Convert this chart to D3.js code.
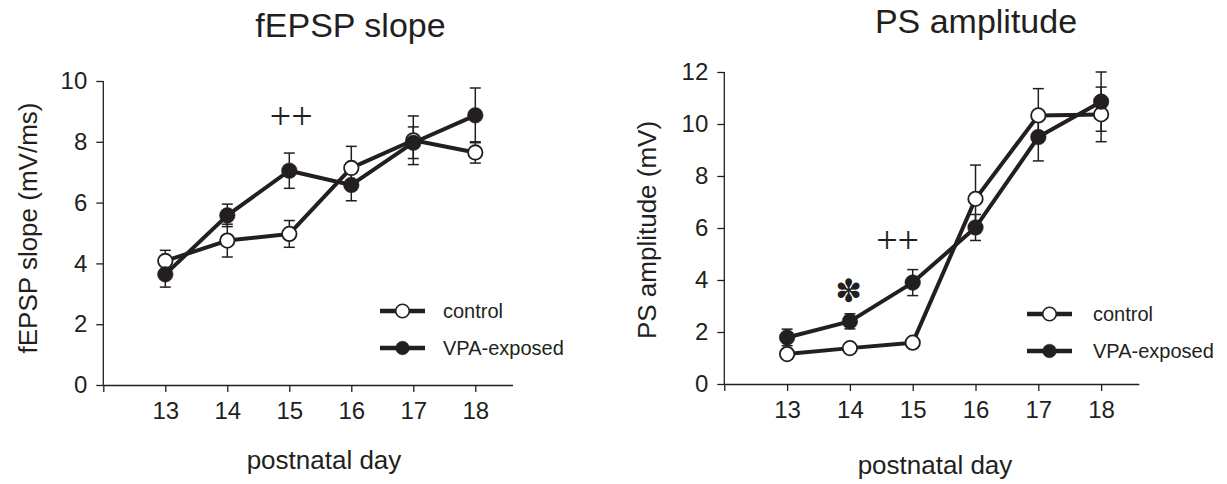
<!DOCTYPE html>
<html><head><meta charset="utf-8">
<script src="https://cdn.jsdelivr.net/npm/d3@7"></script>
<style>body{margin:0;background:#fff}svg{display:block}</style>
</head><body><svg id="c" width="1227" height="484"></svg>
<script>
// ---- data ----
const days = [13, 14, 15, 16, 17, 18];
const xTicks = [12, 13, 14, 15, 16, 17, 18];
const seriesNames = ["control", "VPA-exposed"];

const slopeControl    = [4.08, 4.75, 4.97, 7.14, 8.05, 7.65];
const slopeControlErr = [0.35, 0.54, 0.44, 0.71, 0.80, 0.35];
const slopeVPA        = [3.64, 5.58, 7.05, 6.58, 7.97, 8.87];
const slopeVPAErr     = [0.42, 0.37, 0.58, 0.52, 0.52, 0.90];
const slopeYTicks     = [0, 2, 4, 6, 8, 10];

const ampControl    = [1.15, 1.38, 1.59, 7.12, 10.33, 10.37];
const ampControlErr = [0.12, 0.12, 0.12, 1.30, 1.03, 1.05];
const ampVPA        = [1.79, 2.41, 3.90, 6.02, 9.50, 10.86];
const ampVPAErr     = [0.32, 0.29, 0.50, 0.50, 0.92, 1.14];
const ampYTicks     = [0, 2, 4, 6, 8, 10, 12];

const slopeMarks = [{text: "++", day: 15.03, value: 8.75}];
const ampMarks   = [{text: "\u273D", day: 13.98, value: 3.58, sym: true}, {text: "++", day: 14.76, value: 5.42}];

// ---- drawing ----
const INK = "#231f20";
const FONT = "'Liberation Sans', Arial, sans-serif";
const svg = d3.select("#c");

function panel(o) {
  const g = svg.append("g");
  const x = d3.scaleLinear().domain([12, 18.6]).range(o.xr);
  const y = d3.scaleLinear().domain([0, o.ymax]).range(o.yr);

  // axes
  const ax = g.append("g").attr("transform", `translate(0,${o.yr[0]})`)
    .call(d3.axisBottom(x).tickValues(xTicks).tickFormat(d => d === 12 ? "" : d)
      .tickSize(7).tickSizeOuter(0).tickPadding(10));
  const ay = g.append("g").attr("transform", `translate(${o.xr[0]},0)`)
    .call(d3.axisLeft(y).tickValues(o.yTicks).tickSize(7).tickSizeOuter(0).tickPadding(9));
  [ax, ay].forEach(a => {
    a.select(".domain").attr("stroke", INK).attr("stroke-width", 1.3);
    a.selectAll(".tick line").attr("stroke", INK).attr("stroke-width", 1.3);
    a.selectAll(".tick text").attr("fill", INK).style("font-family", FONT).style("font-size", "24px");
  });
  ay.select(".domain").attr("d", `M0,${o.yr[0]}V${o.yr[1]}`);

  // titles / labels
  g.append("text").attr("x", o.titleX).attr("y", o.titleY).attr("text-anchor", "middle")
    .attr("fill", INK).style("font-family", FONT).style("font-size", "34px").text(o.title);
  g.append("text").attr("x", o.xlabX).attr("y", o.xlabY).attr("text-anchor", "middle")
    .attr("fill", INK).style("font-family", FONT).style("font-size", "26px").text("postnatal day");
  g.append("text").attr("transform", `translate(${o.ylabX},${o.ylabY}) rotate(-90)`).attr("text-anchor", "middle")
    .attr("fill", INK).style("font-family", FONT).style("font-size", "26px").text(o.ylab);

  const series = [
    {vals: o.control, errs: o.controlErr, filled: false},
    {vals: o.vpa, errs: o.vpaErr, filled: true}
  ];
  // error bars
  series.forEach(s => {
    const eg = g.append("g").attr("stroke", INK).attr("stroke-width", 1.5).attr("fill", "none");
    days.forEach((d, i) => {
      const cx = x(d), y1 = y(s.vals[i] + s.errs[i]), y0 = y(s.vals[i] - s.errs[i]);
      eg.append("line").attr("x1", cx).attr("x2", cx).attr("y1", y1).attr("y2", y0);
      eg.append("line").attr("x1", cx - 5.5).attr("x2", cx + 5.5).attr("y1", y1).attr("y2", y1);
      eg.append("line").attr("x1", cx - 5.5).attr("x2", cx + 5.5).attr("y1", y0).attr("y2", y0);
    });
  });
  // lines
  const line = d3.line().x((v, i) => x(days[i])).y(v => y(v));
  series.forEach(s => {
    g.append("path").attr("d", line(s.vals)).attr("fill", "none").attr("stroke", INK)
      .attr("stroke-width", 4).attr("stroke-linejoin", "round");
  });
  // markers
  series.forEach(s => {
    g.append("g").selectAll("circle").data(s.vals).join("circle")
      .attr("cx", (v, i) => x(days[i])).attr("cy", v => y(v))
      .attr("r", s.filled ? 7.8 : 7.2)
      .attr("fill", s.filled ? INK : "#fff").attr("stroke", INK).attr("stroke-width", s.filled ? 0.5 : 1.8);
  });

  // legend
  seriesNames.forEach((name, i) => {
    const ly = o.legY[i];
    const lg = g.append("g");
    lg.append("line").attr("x1", o.legX[0]).attr("x2", o.legX[1]).attr("y1", ly).attr("y2", ly)
      .attr("stroke", INK).attr("stroke-width", 4.5);
    lg.append("circle").attr("cx", (o.legX[0] + o.legX[1]) / 2).attr("cy", ly).attr("r", 6.8)
      .attr("fill", i === 0 ? "#fff" : INK).attr("stroke", INK).attr("stroke-width", i === 0 ? 1.6 : 0.5);
    lg.append("text").attr("x", o.legTextX).attr("y", ly).attr("dy", "0.36em")
      .attr("fill", INK).style("font-family", FONT).style("font-size", "20px").text(name);
  });

  // significance marks
  o.marks.forEach(m => {
    const t = g.append("text").attr("x", x(m.day)).attr("y", y(m.value)).attr("text-anchor", "middle")
      .attr("fill", INK).text(m.text);
    if (m.sym) t.attr("dy", "0.36em").style("font-family", "'DejaVu Sans', sans-serif").style("font-size", "32px");
    else t.attr("dy", "0.26em").style("font-family", "'Liberation Serif', 'Times New Roman', serif").style("font-size", "38px");
  });
}

panel({
  xr: [103.3, 512.5], yr: [385, 81], ymax: 10, yTicks: slopeYTicks,
  control: slopeControl, controlErr: slopeControlErr, vpa: slopeVPA, vpaErr: slopeVPAErr,
  title: "fEPSP slope", titleX: 350.5, titleY: 37,
  ylab: "fEPSP slope (mV/ms)", ylabX: 37, ylabY: 228,
  xlabX: 324, xlabY: 469,
  legX: [380, 425], legY: [311, 348], legTextX: 443,
  marks: slopeMarks
});
panel({
  xr: [724.3, 1138.8], yr: [384, 72], ymax: 12, yTicks: ampYTicks,
  control: ampControl, controlErr: ampControlErr, vpa: ampVPA, vpaErr: ampVPAErr,
  title: "PS amplitude", titleX: 976, titleY: 33,
  ylab: "PS amplitude (mV)", ylabX: 656, ylabY: 230,
  xlabX: 935, xlabY: 474,
  legX: [1027, 1072], legY: [314, 351], legTextX: 1093,
  marks: ampMarks
});
</script></body></html>
